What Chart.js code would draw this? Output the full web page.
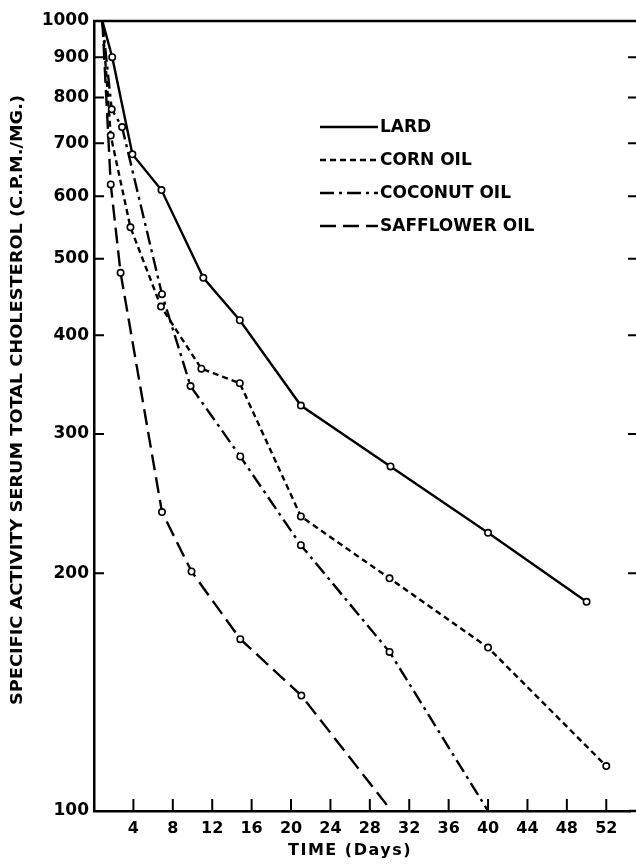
<!DOCTYPE html>
<html>
<head>
<meta charset="utf-8">
<script src="https://cdn.jsdelivr.net/npm/chart.js@4.4.1/dist/chart.umd.min.js"></script>
<style>
  html, body { margin: 0; padding: 0; background: #fff; }
  canvas { display: block; }
</style>
</head>
<body>
<canvas id="myChart" width="636" height="865"></canvas>
<script>
// data (days, specific activity c.p.m./mg)
var lardDays = [0.85, 1.85, 3.9, 6.85, 11.1, 14.8, 21, 30.1, 40, 50];
var lardValues = [1000, 900, 678, 611, 473, 418, 326, 273, 225, 184];

var cornDays = [0.85, 1.7, 3.7, 6.8, 10.9, 14.8, 21, 30, 40, 52];
var cornValues = [1000, 716, 548, 435, 363, 348, 236, 197, 161, 114];

var coconutDays = [0.85, 1.8, 2.85, 6.9, 9.8, 14.85, 21, 30, 40];
var coconutValues = [1000, 773, 734, 451, 345, 281, 217, 159, 100];

var safflowerDays = [0.85, 1.7, 2.7, 6.9, 9.9, 14.85, 21.05, 30.2];
var safflowerValues = [1000, 621, 480, 239, 201, 165, 140, 100];

var xTickLabels = [4, 8, 12, 16, 20, 24, 28, 32, 36, 40, 44, 48, 52];
var yTickLabels = [100, 200, 300, 400, 500, 600, 700, 800, 900, 1000];

var seriesNames = ['LARD', 'CORN OIL', 'COCONUT OIL', 'SAFFLOWER OIL'];
var dashes = [[], [6, 4], [14, 5, 3, 5], [16, 7]];

var BOLD = 'bold 17px "DejaVu Sans", sans-serif';

function pairs(xs, ys) {
    return xs.map(function (x, i) { return { x: x, y: ys[i] }; });
}

function radii(ys) {
    return ys.map(function (v, i) { return (i === 0 || v <= 100) ? 0 : 3.2; });
}

function makeSet(name, xs, ys, dash) {
    return {
        label: name,
        data: pairs(xs, ys),
        borderColor: '#000',
        borderWidth: 2.4,
        borderDash: dash,
        pointRadius: radii(ys),
        pointBackgroundColor: '#fff',
        pointBorderColor: '#000',
        pointBorderWidth: 1.6,
        fill: false,
        tension: 0
    };
}

var extras = {
    id: 'extras',
    afterDraw: function (chart) {
        var ctx = chart.ctx;
        var a = chart.chartArea;
        var xs = chart.scales.x;
        var ys = chart.scales.y;
        ctx.save();
        ctx.strokeStyle = '#000';
        ctx.fillStyle = '#000';
        ctx.setLineDash([]);

        // top frame line, and the frame running off the right edge
        ctx.lineWidth = 2.5;
        ctx.beginPath();
        ctx.moveTo(a.left - 1, a.top);
        ctx.lineTo(chart.width, a.top);
        ctx.moveTo(a.right - 1, a.bottom);
        ctx.lineTo(chart.width, a.bottom);
        ctx.stroke();

        // inward tick marks
        ctx.lineWidth = 2;
        yTickLabels.forEach(function (v) {
            if (v === 100 || v === 1000) return;
            var py = ys.getPixelForValue(v);
            ctx.beginPath();
            ctx.moveTo(a.left, py);
            ctx.lineTo(a.left + 10, py);
            ctx.moveTo(chart.width - 8, py);
            ctx.lineTo(chart.width, py);
            ctx.stroke();
        });
        xTickLabels.forEach(function (v) {
            var px = xs.getPixelForValue(v);
            ctx.beginPath();
            ctx.moveTo(px, a.bottom);
            ctx.lineTo(px, a.bottom - 12);
            ctx.stroke();
        });

        // legend
        var rows = [127, 160, 193, 226];
        chart.data.datasets.forEach(function (ds, i) {
            var y = rows[i];
            ctx.lineWidth = 2.4;
            ctx.setLineDash(dashes[i]);
            ctx.beginPath();
            ctx.moveTo(320, y);
            ctx.lineTo(378, y);
            ctx.stroke();
            ctx.setLineDash([]);
            ctx.font = BOLD;
            ctx.textAlign = 'left';
            ctx.textBaseline = 'middle';
            ctx.fillText(seriesNames[i], 380, y + 1);
        });

        // axis titles
        ctx.font = 'bold 16px "DejaVu Sans", sans-serif';
        ctx.textAlign = 'center';
        ctx.textBaseline = 'middle';
        if ('letterSpacing' in ctx) ctx.letterSpacing = '1.5px';
        ctx.fillText('TIME (Days)', 350, 851);
        if ('letterSpacing' in ctx) ctx.letterSpacing = '0px';

        ctx.translate(18, 400);
        ctx.rotate(-Math.PI / 2);
        ctx.font = 'bold 16px "DejaVu Sans Condensed", "DejaVu Sans", sans-serif';
        var txt = 'SPECIFIC ACTIVITY SERUM TOTAL CHOLESTEROL (C.P.M./MG.)';
        var w = ctx.measureText(txt).width;
        ctx.scale(610 / w, 1);
        ctx.fillText(txt, 0, 0);
        ctx.restore();
    }
};

function gerarGrafico() {
    var ctx = document.getElementById('myChart');

    new Chart(ctx, {
        type: 'line',
        data: {
            datasets: [
                makeSet(seriesNames[0], lardDays, lardValues, dashes[0]),
                makeSet(seriesNames[1], cornDays, cornValues, dashes[1]),
                makeSet(seriesNames[2], coconutDays, coconutValues, dashes[2]),
                makeSet(seriesNames[3], safflowerDays, safflowerValues, dashes[3])
            ]
        },
        options: {
            responsive: false,
            animation: false,
            devicePixelRatio: 1,
            layout: { padding: { top: 21, right: 0, left: 0, bottom: 0 } },
            plugins: {
                legend: { display: false },
                tooltip: { enabled: false }
            },
            scales: {
                x: {
                    type: 'linear',
                    min: 0,
                    max: 54.45,
                    grid: { display: false, drawTicks: false },
                    border: { display: true, color: '#000', width: 2.5 },
                    afterBuildTicks: function (scale) {
                        scale.ticks = xTickLabels.map(function (v) { return { value: v }; });
                    },
                    afterFit: function (scale) { scale.height = 54; },
                    ticks: {
                        color: '#000',
                        font: { family: '"DejaVu Sans", sans-serif', weight: 'bold', size: 16 },
                        padding: 8,
                        maxRotation: 0,
                        autoSkip: false
                    }
                },
                y: {
                    type: 'logarithmic',
                    min: 100,
                    max: 1000,
                    grid: { display: false, drawTicks: false },
                    border: { display: true, color: '#000', width: 2.5 },
                    afterBuildTicks: function (scale) {
                        scale.ticks = yTickLabels.map(function (v) { return { value: v }; });
                    },
                    afterFit: function (scale) { scale.width = 94; },
                    ticks: {
                        color: '#000',
                        font: { family: '"DejaVu Sans", sans-serif', weight: 'bold', size: 17 },
                        padding: 5,
                        autoSkip: false,
                        callback: function (v) { return String(v); }
                    }
                }
            }
        },
        plugins: [extras]
    });
}

gerarGrafico();
</script>
</body>
</html>
